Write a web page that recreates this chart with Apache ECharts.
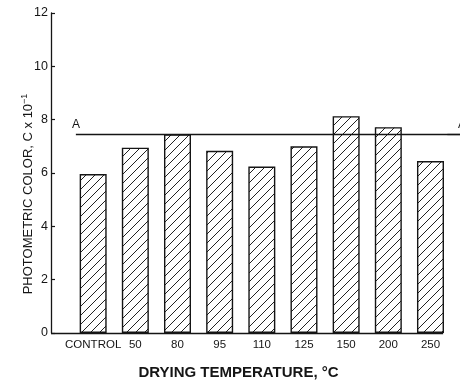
<!DOCTYPE html>
<html>
<head>
<meta charset="utf-8">
<script src="https://cdn.jsdelivr.net/npm/echarts@6/dist/echarts.min.js"></script>
<style>
  html, body { margin: 0; padding: 0; background: #fff; }
  #chart { width: 460px; height: 385px; }
</style>
</head>
<body>
<div id="chart"></div>
<script>
const categories = ['CONTROL', '50', '80', '95', '110', '125', '150', '200', '250']
const colorValues = [5.96, 6.95, 7.45, 6.83, 6.24, 7.0, 8.13, 7.72, 6.45]
const referenceA = 7.44
const yTicks = [0, 2, 4, 6, 8, 10, 12]

const font = '"Liberation Sans", Arial, sans-serif'
const ink = '#151515'

// diagonal hatch fill for the bars
const makeHatch = () => {
  const c = document.createElement('canvas')
  c.width = 9
  c.height = 9
  const ctx = c.getContext('2d')
  ctx.fillStyle = '#fff'
  ctx.fillRect(0, 0, 9, 9)
  ctx.strokeStyle = '#222'
  ctx.lineWidth = 1
  ctx.beginPath()
  ctx.moveTo(-1, 10); ctx.lineTo(10, -1)
  ctx.moveTo(-1, 1); ctx.lineTo(1, -1)
  ctx.moveTo(8, 10); ctx.lineTo(10, 8)
  ctx.stroke()
  return c
}

const chart = echarts.init(document.getElementById('chart'), null, { renderer: 'canvas' })

const option = {
  animation: false,
  grid: { left: 51, right: 0, top: 13, bottom: 48 },
  xAxis: {
    type: 'value',
    min: -1,
    max: 8.7,
    interval: 1,
    axisLine: { show: false },
    axisTick: { show: false },
    splitLine: { show: false },
    axisLabel: {
      color: ink,
      fontSize: 11.5,
      fontFamily: font,
      margin: 6,
      showMaxLabel: false,
      formatter: (v) => (Number.isInteger(v) && categories[v] !== undefined ? categories[v] : '')
    },
    name: 'DRYING TEMPERATURE, °C',
    nameLocation: 'middle',
    nameMoveOverlap: false,
    nameGap: 32,
    nameTextStyle: {
      color: ink,
      fontSize: 15,
      fontWeight: 'bold',
      fontFamily: font,
      padding: [0, 34, 0, 0]
    }
  },
  yAxis: {
    type: 'value',
    min: yTicks[0],
    max: yTicks[yTicks.length - 1],
    interval: 2,
    axisLine: { show: true, onZero: false, lineStyle: { color: ink, width: 1.3 } },
    axisTick: { show: true, inside: true, length: 4, lineStyle: { color: ink, width: 1.2 } },
    splitLine: { show: false },
    axisLabel: { color: ink, fontSize: 12.5, fontFamily: font, margin: 3 },
    name: '{t|PHOTOMETRIC COLOR, C x 10}{s|−1}',
    nameLocation: 'middle',
    nameMoveOverlap: false,
    nameGap: 14,
    nameTextStyle: {
      padding: [0, 42, 0, 0],
      rich: {
        t: { fontSize: 13, color: ink, fontFamily: font },
        s: { fontSize: 9, color: ink, fontFamily: font, verticalAlign: 'top', padding: [0, 0, 8, 0] }
      }
    }
  },
  series: [
    {
      type: 'bar',
      barWidth: 27,
      data: colorValues.map((v, i) => [i, v]),
      itemStyle: {
        color: { image: makeHatch(), repeat: 'repeat' },
        borderColor: ink,
        borderWidth: 1.4
      },
      emphasis: { disabled: true },
      markLine: {
        silent: true,
        symbol: 'none',
        animation: false,
        lineStyle: { color: ink, width: 1.3, type: 'solid' },
        label: { show: false },
        data: [
          // baseline (the x axis only runs to the last bar)
          [{ coord: [-1, 0] }, { coord: [8.3, 0] }],
          [
            { coord: [-0.41, referenceA], label: { show: true, position: 'insideStartTop', formatter: 'A', color: ink, fontSize: 12, fontFamily: font, distance: [-4, 4] } },
            { coord: [8.7, referenceA] }
          ],
          [
            { coord: [8.4, referenceA], label: { show: true, position: 'insideEndTop', formatter: 'A', color: ink, fontSize: 12, fontFamily: font, distance: [-6, 4] } },
            { coord: [8.7, referenceA] }
          ]
        ]
      }
    }
  ]
}

chart.setOption(option)
</script>
</body>
</html>
